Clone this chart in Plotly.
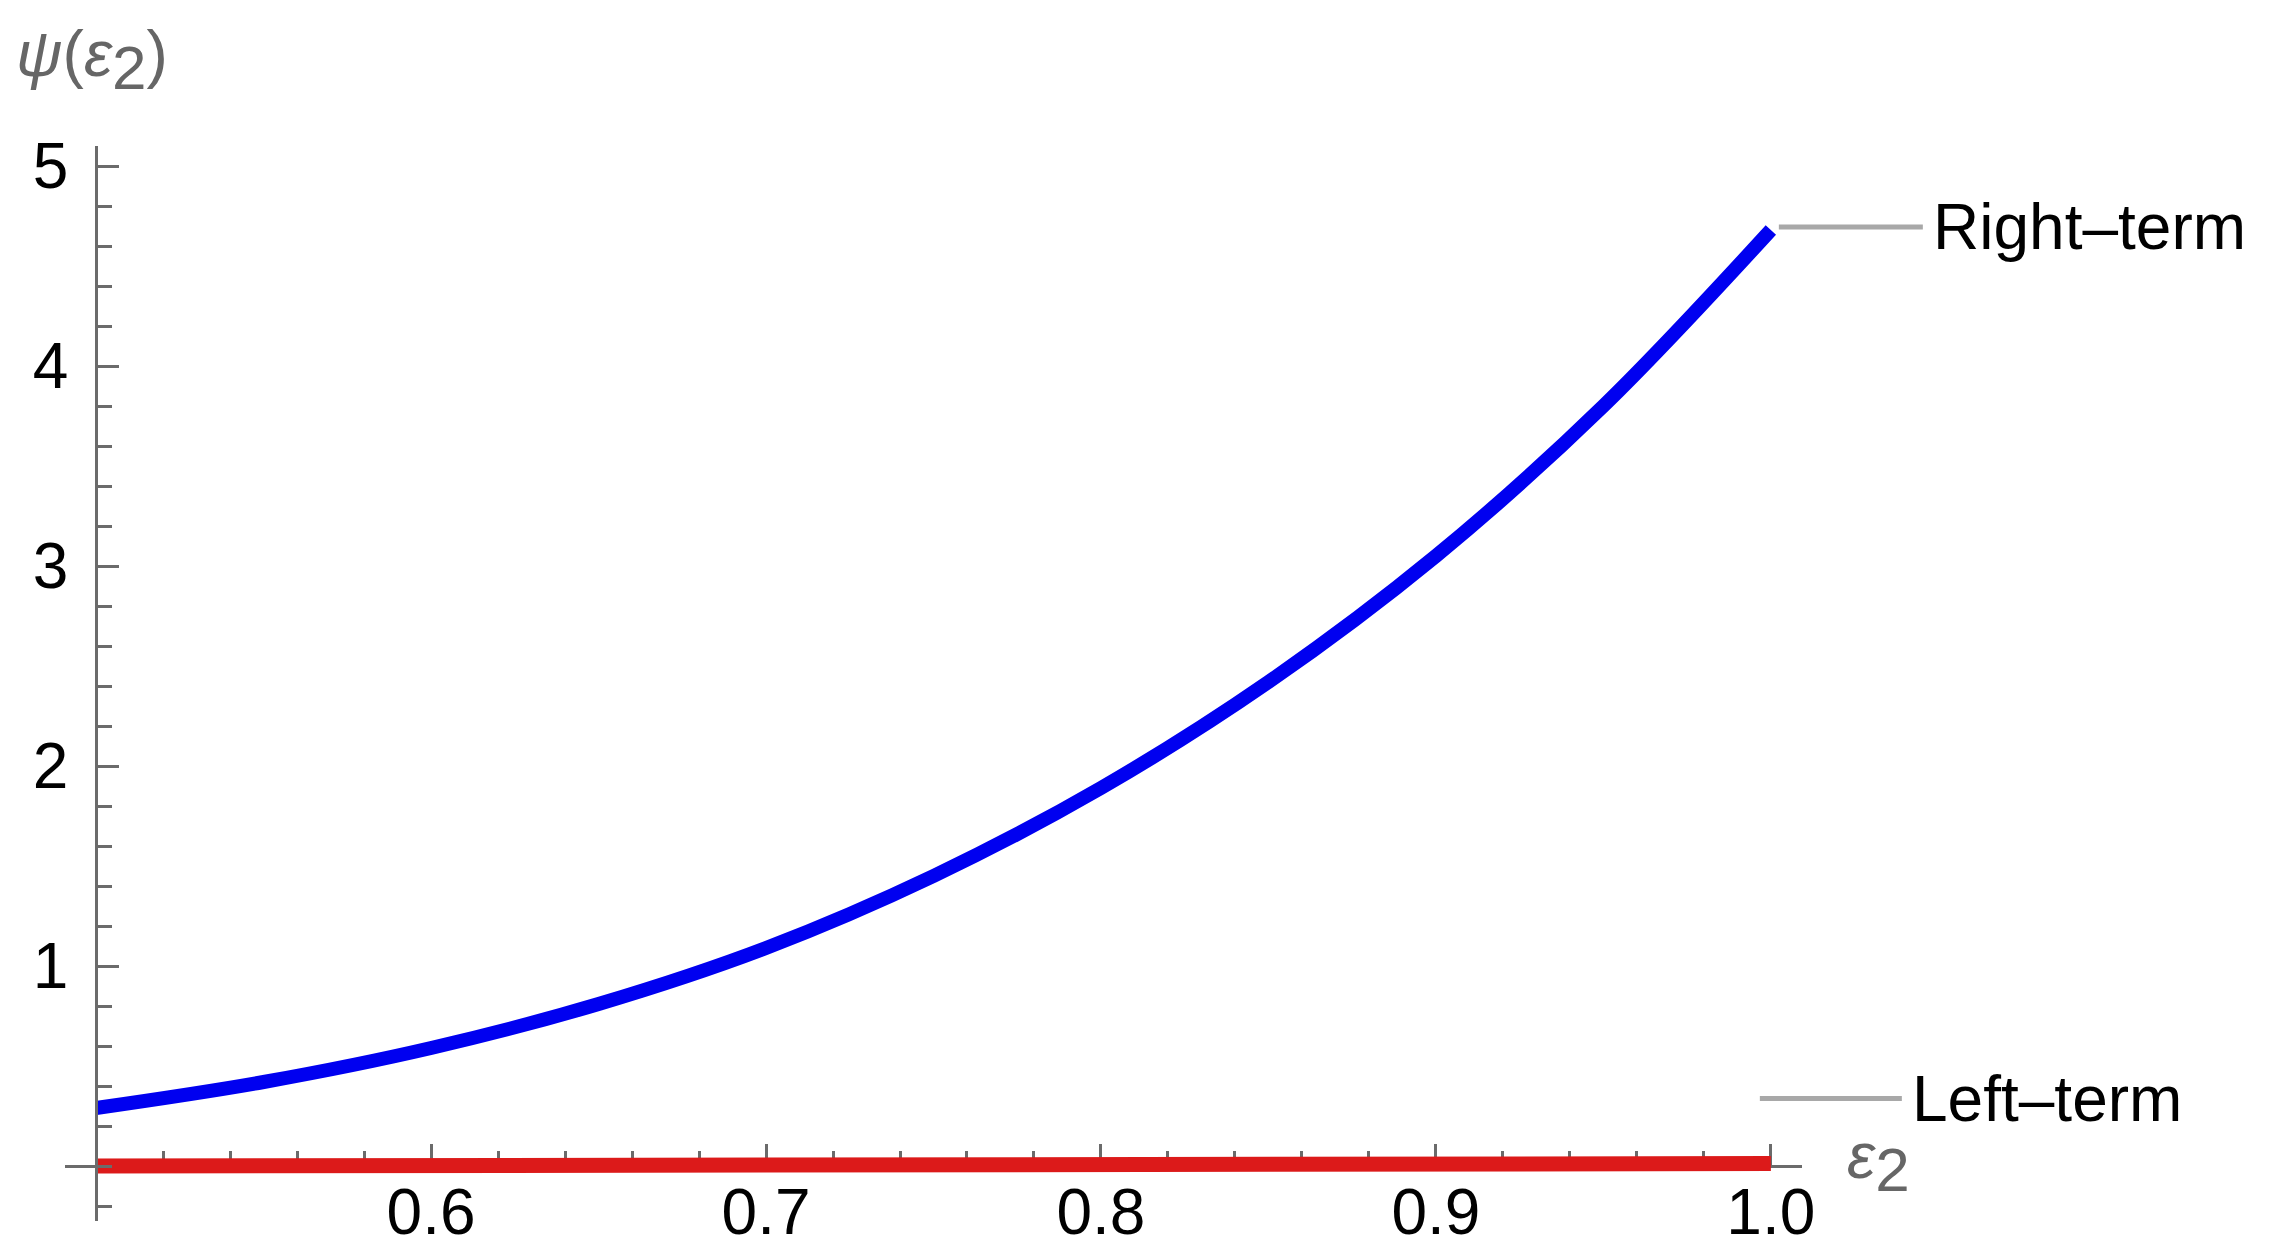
import plotly.graph_objects as go

# 数据
eps2 = [0.50, 0.55, 0.60, 0.65, 0.70, 0.75, 0.80, 0.85, 0.90, 0.95, 1.00]
right_term = [0.29, 0.42, 0.59, 0.81, 1.09, 1.45, 1.89, 2.42, 3.05, 3.80, 4.68]
left_term = [0.000, 0.000, 0.001, 0.001, 0.002, 0.003, 0.004, 0.005, 0.007, 0.009, 0.012]

x_ticks = [0.6, 0.7, 0.8, 0.9, 1.0]
x_ticktext = ["0.6", "0.7", "0.8", "0.9", "1.0"]
y_ticks = [1, 2, 3, 4, 5]

x_range = [0.4907, 1.0093]
y_range = [-0.275, 5.1]

font_name = "Liberation Sans, Arial, sans-serif"
axis_gray = "#6b6b6b"
label_gray = "#666666"
callout_gray = "#a8a8a8"

# axes cross at (0.5, 0) like Mathematica
x_pos = (0.5 - x_range[0]) / (x_range[1] - x_range[0])
y_pos = (0 - y_range[0]) / (y_range[1] - y_range[0])

fig = go.Figure()
fig.add_trace(go.Scatter(x=eps2, y=left_term, mode="lines", name="Left-term",
                         line=dict(color="#dc1a1a", width=15), showlegend=False))
fig.add_trace(go.Scatter(x=eps2, y=right_term, mode="lines", name="Right-term",
                         line=dict(color="#0000f0", width=14, shape="spline", smoothing=1.0),
                         showlegend=False))

fig.update_layout(
    width=2273, height=1259,
    margin=dict(l=57, r=479, t=138, b=46, autoexpand=False),
    paper_bgcolor="white", plot_bgcolor="white",
    font=dict(family=font_name, size=64, color="black"),
    xaxis=dict(range=x_range, showgrid=False, zeroline=False,
               showline=True, linecolor=axis_gray, linewidth=3,
               anchor="free", position=y_pos, layer="below traces",
               tickmode="array", tickvals=x_ticks, ticktext=x_ticktext,
               ticks="inside", ticklen=21, tickwidth=2.5, tickcolor=axis_gray,
               ticklabelstandoff=-11, automargin=False,
               minor=dict(tick0=0.5, dtick=0.02, ticks="inside", ticklen=14,
                          tickwidth=2.5, tickcolor=axis_gray)),
    yaxis=dict(range=y_range, showgrid=False, zeroline=False,
               showline=True, linecolor=axis_gray, linewidth=3,
               anchor="free", position=x_pos,
               tickmode="array", tickvals=y_ticks,
               ticks="inside", ticklen=21, tickwidth=2.5, tickcolor=axis_gray,
               ticklabelstandoff=14, automargin=False,
               minor=dict(tick0=0, dtick=0.2, ticks="inside", ticklen=14,
                          tickwidth=2.5, tickcolor=axis_gray)),
)

# callouts: a grey leader line and the label, offset in pixels from the curve end
end_x = eps2[-1]
fig.add_annotation(x=end_x, y=right_term[-1], xref="x", yref="y", text="Right–term",
                   showarrow=True, arrowhead=0, arrowwidth=5, arrowcolor=callout_gray,
                   ax=144, ay=0, standoff=0, borderpad=9, xanchor="left", yanchor="middle",
                   xshift=8, yshift=3, font=dict(size=64, color="black"))
fig.add_annotation(x=end_x, y=left_term[-1], xref="x", yref="y", text="Left–term",
                   showarrow=True, arrowhead=0, arrowwidth=5, arrowcolor=callout_gray,
                   ax=142, ay=0, standoff=0, borderpad=9, xanchor="left", yanchor="middle",
                   xshift=-11, yshift=65, font=dict(size=64, color="black"))

# axis labels
fig.add_annotation(x=1, y=0, xref="paper", yref="y", xanchor="left", yanchor="middle",
                   text="<i>ε</i><sub><span style='font-size:62px'>2</span></sub>",
                   showarrow=False, xshift=43, yshift=4,
                   font=dict(size=64, color=label_gray))
fig.add_annotation(x=0, y=1, xref="paper", yref="paper", xanchor="left", yanchor="middle",
                   text="<i>ψ</i>(<i>ε</i><sub><span style='font-size:62px'>2</span></sub>)",
                   showarrow=False, xshift=-51, yshift=86,
                   font=dict(size=64, color=label_gray))

fig.write_html("out.html")
